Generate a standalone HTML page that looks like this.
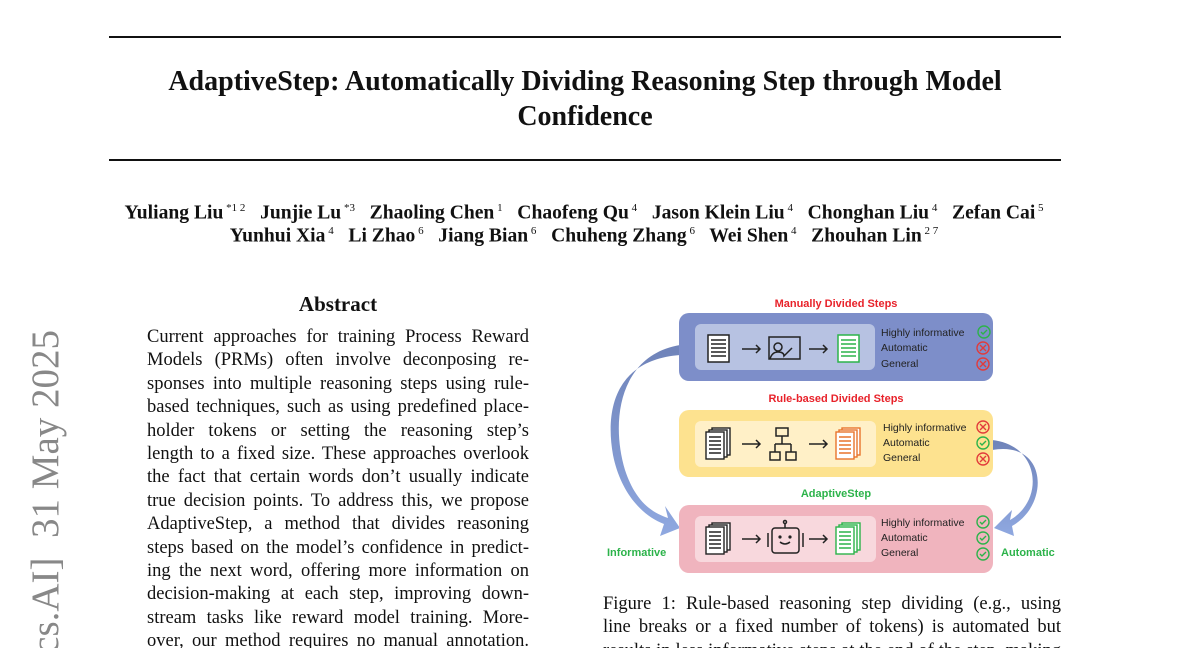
<!DOCTYPE html>
<html style="width:1200px;height:648px;overflow:hidden"><head><meta charset="utf-8"><style>
html,body{overflow:hidden}
body{margin:0;width:1200px;height:648px;overflow:hidden;background:#fff;position:relative;font-family:"Liberation Serif",serif;color:#111}
.a{position:absolute}
.rule{position:absolute;left:109px;width:952px;height:2px;background:#111}
.title{left:0;width:1170px;text-align:center;font-weight:bold;font-size:28px}
.auth{left:0;width:1168px;text-align:center;font-weight:bold;font-size:19.6px;white-space:nowrap}
.auth sup{font-weight:normal;font-size:11px}
.body{left:147px;width:382px;font-size:18.5px;line-height:23.4px;text-align:justify;text-align-last:justify}
.body div{height:23.4px;white-space:nowrap;overflow:hidden}
.cap{left:603px;width:458px;height:55px;overflow:hidden;font-size:18.5px;line-height:23.4px}
.cap div{white-space:nowrap;text-align:justify;text-align-last:justify}
</style></head><body>
<div class="rule" style="top:36px"></div>
<div class="rule" style="top:159px"></div>
<div class="a title" style="top:66px">AdaptiveStep: Automatically Dividing Reasoning Step through Model</div>
<div class="a title" style="top:101px">Confidence</div>
<div class="a auth" style="top:202px">Yuliang Liu<sup> *1 2</sup>&nbsp;&nbsp; Junjie Lu<sup> *3</sup>&nbsp;&nbsp; Zhaoling Chen<sup> 1</sup>&nbsp;&nbsp; Chaofeng Qu<sup> 4</sup>&nbsp;&nbsp; Jason Klein Liu<sup> 4</sup>&nbsp;&nbsp; Chonghan Liu<sup> 4</sup>&nbsp;&nbsp; Zefan Cai<sup> 5</sup></div>
<div class="a auth" style="top:225px">Yunhui Xia<sup> 4</sup>&nbsp;&nbsp; Li Zhao<sup> 6</sup>&nbsp;&nbsp; Jiang Bian<sup> 6</sup>&nbsp;&nbsp; Chuheng Zhang<sup> 6</sup>&nbsp;&nbsp; Wei Shen<sup> 4</sup>&nbsp;&nbsp; Zhouhan Lin<sup> 2 7</sup></div>
<div class="a" style="left:147px;width:382px;top:292px;text-align:center;font-weight:bold;font-size:21px">Abstract</div>
<div class="a body" style="top:326px;height:322px;overflow:hidden">
<div>Current approaches for training Process Reward</div>
<div>Models (PRMs) often involve deconposing re-</div>
<div>sponses into multiple reasoning steps using rule-</div>
<div>based techniques, such as using predefined place-</div>
<div>holder tokens or setting the reasoning step’s</div>
<div>length to a fixed size. These approaches overlook</div>
<div>the fact that certain words don’t usually indicate</div>
<div>true decision points. To address this, we propose</div>
<div>AdaptiveStep, a method that divides reasoning</div>
<div>steps based on the model’s confidence in predict-</div>
<div>ing the next word, offering more information on</div>
<div>decision-making at each step, improving down-</div>
<div>stream tasks like reward model training. More-</div>
<div>over, our method requires no manual annotation.</div>
</div>
<div class="a" style="left:0;top:0;width:100px;height:648px;overflow:hidden">
<div class="a" style="left:28px;top:330px;width:0;height:0">
<div style="position:absolute;right:0;top:0;transform-origin:100% 0;transform:rotate(-90deg) translateY(-4px);white-space:nowrap;font-size:39px;color:#888;line-height:44px;text-align:right">arXiv:2502.13943v2&nbsp; [cs.AI]&nbsp; 31 May 2025</div>
</div></div>
<svg class="a" style="left:0;top:0" width="1200" height="648" font-family="Liberation Sans, sans-serif">
<defs>
<linearGradient id="gl" x1="0" y1="0" x2="0" y2="1"><stop offset="0" stop-color="#6f83b9"/><stop offset="1" stop-color="#8fa8e0"/></linearGradient>
</defs>
<path d="M680,345 C620,355 610,420 625,470 C635,500 650,512 668,518 L665,506 L680,528 L660,536 L664,524 C640,515 620,490 613,455 C605,410 615,360 680,355 Z" fill="url(#gl)"/>
<path d="M992,440 C1040,445 1045,500 1010,520 L1012,510 L994,528 L1014,536 L1012,526 C1050,505 1048,440 992,450 Z" fill="url(#gl)"/>
<rect x="679" y="313" width="314" height="68" rx="10" fill="#7d8ec9"/>
<rect x="695" y="324" width="180" height="46" rx="6" fill="#b7c2e2"/>
<rect x="679" y="410" width="314" height="67" rx="10" fill="#fde28f"/>
<rect x="695" y="421" width="181" height="46" rx="6" fill="#fff0c7"/>
<rect x="679" y="505" width="314" height="68" rx="10" fill="#f0b4be"/>
<rect x="695" y="516" width="181" height="46" rx="6" fill="#f8d8dd"/>
<text x="836" y="307" text-anchor="middle" font-size="11" font-weight="bold" fill="#e8222a">Manually Divided Steps</text>
<text x="836" y="402" text-anchor="middle" font-size="11" font-weight="bold" fill="#e8222a">Rule-based Divided Steps</text>
<text x="836" y="497" text-anchor="middle" font-size="11" font-weight="bold" fill="#2cb34a">AdaptiveStep</text>
<text x="607" y="556" font-size="11" font-weight="bold" fill="#2cb34a">Informative</text>
<text x="1001" y="556" font-size="11" font-weight="bold" fill="#2cb34a">Automatic</text>
<g font-size="10.5" fill="#222">
<text x="881" y="336">Highly informative</text><text x="881" y="351">Automatic</text><text x="881" y="367">General</text>
<text x="883" y="431">Highly informative</text><text x="883" y="446">Automatic</text><text x="883" y="461">General</text>
<text x="881" y="526">Highly informative</text><text x="881" y="541">Automatic</text><text x="881" y="556">General</text>
</g>
<g fill="none" stroke-width="1.4">
<circle cx="984" cy="332" r="6" stroke="#2cb34a"/><path d="M981,332 l2,2 l4,-4" stroke="#2cb34a"/>
<circle cx="983" cy="348" r="6" stroke="#e23b3b"/><path d="M980,345 l6,6 M986,345 l-6,6" stroke="#e23b3b"/>
<circle cx="983" cy="364" r="6" stroke="#e23b3b"/><path d="M980,361 l6,6 M986,361 l-6,6" stroke="#e23b3b"/>
<circle cx="983" cy="427" r="6" stroke="#e23b3b"/><path d="M980,424 l6,6 M986,424 l-6,6" stroke="#e23b3b"/>
<circle cx="983" cy="443" r="6" stroke="#2cb34a"/><path d="M980,443 l2,2 l4,-4" stroke="#2cb34a"/>
<circle cx="983" cy="459" r="6" stroke="#e23b3b"/><path d="M980,456 l6,6 M986,456 l-6,6" stroke="#e23b3b"/>
<circle cx="983" cy="522" r="6" stroke="#2cb34a"/><path d="M980,522 l2,2 l4,-4" stroke="#2cb34a"/>
<circle cx="983" cy="538" r="6" stroke="#2cb34a"/><path d="M980,538 l2,2 l4,-4" stroke="#2cb34a"/>
<circle cx="983" cy="554" r="6" stroke="#2cb34a"/><path d="M980,554 l2,2 l4,-4" stroke="#2cb34a"/>
</g>
<g stroke="#222" stroke-width="1.5" fill="none">
<rect x="708" y="335" width="21" height="27" fill="#fff"/>
<path d="M711,340h15M711,344h15M711,348h15M711,352h15M711,356h15"/>
<path d="M742,349h18M756,345l4,4-4,4M809,349h18M823,345l4,4-4,4"/>
<rect x="769" y="337" width="31" height="22"/><circle cx="778" cy="347" r="4"/><path d="M770,359 q2,-7 8,-7 q6,0 6,4 l8,-8"/>
<path d="M742,444h18M756,440l4,4-4,4M809,444h18M823,440l4,4-4,4"/>
<rect x="776" y="428" width="12" height="8"/><rect x="770" y="452" width="10" height="8"/><rect x="786" y="452" width="10" height="8"/><path d="M782,436v8M775,444h16M775,444v8M791,444v8"/>
<path d="M742,539h18M756,535l4,4-4,4M809,539h18M823,535l4,4-4,4"/>
<rect x="772" y="528" width="27" height="25" rx="3"/><path d="M785,528v-5"/><circle cx="785" cy="522" r="1.5"/><path d="M768,533v14M803,533v14M780,542q5,4 10,0"/>
</g>
<g fill="#222"><circle cx="780" cy="537" r="1.6"/><circle cx="790" cy="537" r="1.6"/></g>
<g stroke="#2cb34a" stroke-width="1.5" fill="#fff"><rect x="838" y="335" width="21" height="27"/><path d="M841,340h15M841,344h15M841,348h15M841,352h15M841,356h15"/></g>
<g stroke="#222" stroke-width="1.4" fill="#fff">
<rect x="712" y="428" width="18" height="27"/><rect x="709" y="430" width="18" height="27"/><rect x="706" y="432" width="18" height="27"/><path d="M709,437h12M709,441h12M709,445h12M709,449h12M709,453h12"/>
<rect x="712" y="523" width="18" height="27"/><rect x="709" y="525" width="18" height="27"/><rect x="706" y="527" width="18" height="27"/><path d="M709,532h12M709,536h12M709,540h12M709,544h12M709,548h12"/>
</g>
<g stroke="#e8742c" stroke-width="1.4" fill="#fff">
<rect x="842" y="428" width="18" height="27"/><rect x="839" y="430" width="18" height="27"/><rect x="836" y="432" width="18" height="27"/><path d="M839,437h12M839,441h12M839,445h12M839,449h12M839,453h12"/>
</g>
<g stroke="#2cb34a" stroke-width="1.4" fill="#fff">
<rect x="842" y="523" width="18" height="27"/><rect x="839" y="525" width="18" height="27"/><rect x="836" y="527" width="18" height="27"/><path d="M839,532h12M839,536h12M839,540h12M839,544h12M839,548h12"/>
</g>
</svg>
<div class="a cap" style="top:593px">
<div>Figure 1: Rule-based reasoning step dividing (e.g., using</div>
<div>line breaks or a fixed number of tokens) is automated but</div>
<div>results in less informative steps at the end of the step, making</div>
</div>
</body></html>
